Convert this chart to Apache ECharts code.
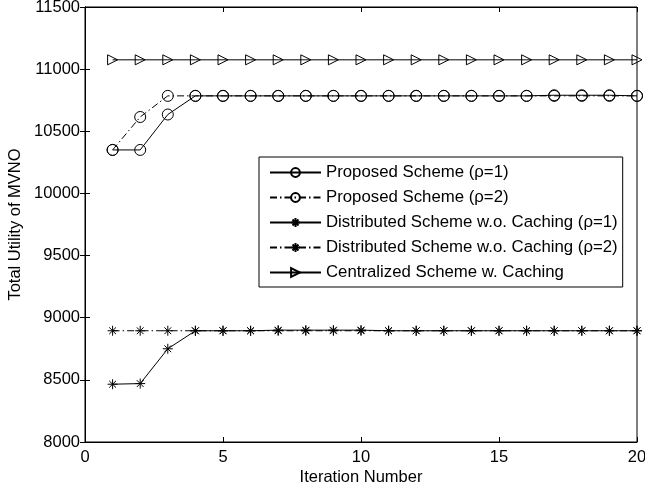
<!DOCTYPE html>
<html><head><meta charset="utf-8">
<script src="https://cdn.jsdelivr.net/npm/echarts@6/dist/echarts.min.js"></script>
<style>html,body{margin:0;padding:0;background:#fff}#c{width:645px;height:491px}</style>
</head><body><div id="c"></div>
<script>
const iterations = [1,2,3,4,5,6,7,8,9,10,11,12,13,14,15,16,17,18,19,20];
const proposed1 = [10350,10350,10635,10785,10785,10785,10785,10785,10785,10785,10785,10785,10785,10785,10785,10785,10790,10790,10790,10785];
const proposed2 = [10350,10615,10785,10785,10785,10785,10785,10785,10785,10785,10785,10785,10785,10785,10785,10785,10785,10785,10785,10785];
const distributed1 = [8465,8470,8750,8895,8895,8895,8900,8900,8900,8900,8895,8895,8895,8895,8895,8895,8895,8895,8895,8895];
const distributed2 = [8895,8895,8895,8895,8895,8895,8895,8895,8895,8895,8895,8895,8895,8895,8895,8895,8895,8895,8895,8895];
const centralized = [11075,11075,11075,11075,11075,11075,11075,11075,11075,11075,11075,11075,11075,11075,11075,11075,11075,11075,11075,11075];
const names = ['Proposed Scheme (\u03C1=1)','Proposed Scheme (\u03C1=2)','Distributed Scheme w.o. Caching (\u03C1=1)','Distributed Scheme w.o. Caching (\u03C1=2)','Centralized Scheme w. Caching'];
const xTicks = [0,5,10,15,20];
const yTicks = [8000,8500,9000,9500,10000,10500,11000,11500];

const pair = arr => iterations.map((x,i)=>[x,arr[i]]);
const star = 'path://M5,0L5,10M0,5L10,5M1.6,1.6L8.4,8.4M8.4,1.6L1.6,8.4';
const tri = 'path://M0,0L10,5L0,10Z';
const dashDot = [7,3,1.5,3];
function mk(name, data, symbol, size, dash){
  return {
    name, type:'line', data: pair(data), symbol, symbolSize:size,
    showSymbol:true, animation:false,
    lineStyle:{color:'#000', width:1, type: dash ? dashDot : 'solid'},
    itemStyle:{color:'none', borderColor:'#000', borderWidth:1}
  };
}
const font = 'Liberation Sans, Arial, sans-serif';
const fs = 16.5;
const chart = echarts.init(document.getElementById('c'));
chart.setOption({
  backgroundColor:'#fff',
  animation:false,
  grid:{left:85, right:8, top:7, bottom:49, show:true, borderColor:'#000', borderWidth:1,
        containLabel:false, outerBoundsMode:'none'},
  legend:{
    orient:'vertical', left:259, top:157,
    backgroundColor:'#fff', borderColor:'#000', borderWidth:1,
    padding:[7,5,6,10], itemGap:8, itemWidth:51, itemHeight:11,
    textStyle:{fontFamily:font, fontSize:16.8, color:'#000'},
    data: names
  },
  xAxis:[{
    type:'value', min:xTicks[0], max:xTicks[xTicks.length-1], interval:5,
    name:'Iteration Number', nameLocation:'middle', nameGap:27, nameMoveOverlap:false,
    nameTextStyle:{fontFamily:font, fontSize:fs, color:'#000'},
    axisLine:{lineStyle:{color:'#000'}},
    axisTick:{inside:true, length:5, lineStyle:{color:'#000'}},
    axisLabel:{fontFamily:font, fontSize:fs, color:'#000', margin:7, formatter:v=>String(v)},
    splitLine:{show:false}
  },{
    type:'value', position:'top', min:xTicks[0], max:xTicks[xTicks.length-1], interval:5,
    axisLine:{lineStyle:{color:'#000'}},
    axisTick:{inside:true, length:5, lineStyle:{color:'#000'}},
    axisLabel:{show:false}, splitLine:{show:false}
  }],
  yAxis:[{
    type:'value', min:yTicks[0], max:yTicks[yTicks.length-1], interval:500,
    name:'Total Utility of MVNO', nameLocation:'middle', nameGap:61, nameMoveOverlap:false,
    nameTextStyle:{fontFamily:font, fontSize:fs, color:'#000'},
    axisLine:{show:true, lineStyle:{color:'#000'}},
    axisTick:{show:true, inside:true, length:5, lineStyle:{color:'#000'}},
    axisLabel:{fontFamily:font, fontSize:fs, color:'#000', margin:5, formatter:v=>String(v)},
    splitLine:{show:false}
  },{
    type:'value', position:'right', min:yTicks[0], max:yTicks[yTicks.length-1], interval:500,
    axisLine:{show:true, lineStyle:{color:'#000'}},
    axisTick:{show:true, inside:true, length:5, lineStyle:{color:'#000'}},
    axisLabel:{show:false}, splitLine:{show:false}
  }],
  series:[
    mk(names[0], proposed1, 'circle', 11, false),
    mk(names[1], proposed2, 'circle', 11, true),
    mk(names[2], distributed1, star, 10, false),
    mk(names[3], distributed2, star, 10, true),
    mk(names[4], centralized, tri, 10, false)
  ]
});
</script></body></html>
